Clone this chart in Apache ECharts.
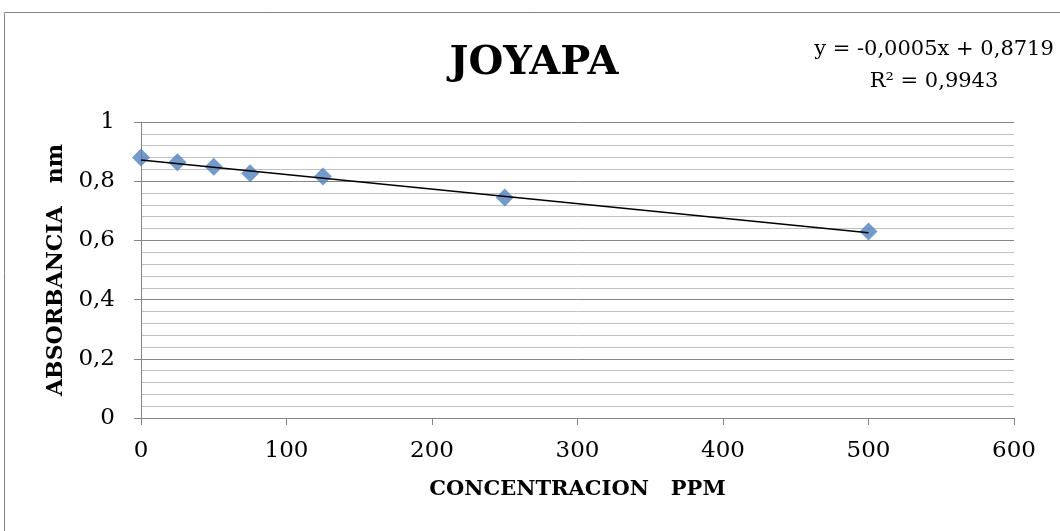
<!DOCTYPE html>
<html>
<head>
<meta charset="utf-8">
<script src="https://cdn.jsdelivr.net/npm/echarts@6/dist/echarts.min.js"></script>
<style>
html,body{margin:0;padding:0;background:#fff;}
#chart{width:1060px;height:531px;}
</style>
</head>
<body>
<div id="chart"></div>
<script>
// Data
const concentration = [0, 25, 50, 75, 125, 250, 500];
const absorbance = [0.880, 0.864, 0.849, 0.827, 0.816, 0.745, 0.630];
// Trendline endpoints as seen in the picture
const trendX = [0, 500];
const trendY = [0.872, 0.626];
const titleText = 'JOYAPA';
const equationText = 'y = -0,0005x + 0,8719';
const r2Text = 'R² = 0,9943';
const xAxisName = 'CONCENTRACION   PPM';
const yAxisName = 'ABSORBANCIA   nm';

const serif = '"DejaVu Serif", "Liberation Serif", serif';
const fmt = v => String(v).replace('.', ',');

const chart = echarts.init(document.getElementById('chart'));
chart.setOption({
  animation: false,
  backgroundColor: '#fff',
  graphic: [
    { type: 'rect', shape: { x: 4.5, y: 12.5, width: 1070, height: 530 },
      style: { fill: 'none', stroke: '#868686', lineWidth: 1 }, silent: true },
    { type: 'text', x: 934, y: 50,
      style: { text: equationText, font: '21px ' + serif, fill: '#000',
               align: 'center', verticalAlign: 'middle' } },
    { type: 'text', x: 934, y: 82,
      style: { text: r2Text, font: '21px ' + serif, fill: '#000',
               align: 'center', verticalAlign: 'middle' } }
  ],
  title: {
    text: titleText,
    left: 529, top: 39, textAlign: 'center',
    textStyle: { fontFamily: serif, fontWeight: 'bold', fontSize: 40, color: '#000' }
  },
  grid: { left: 141, right: 46, top: 122, bottom: 113 },
  xAxis: {
    type: 'value', min: 0, max: 600, interval: 100,
    name: xAxisName, nameLocation: 'middle', nameGap: 61,
    nameTextStyle: { fontFamily: serif, fontWeight: 'bold', fontSize: 21, color: '#000' },
    axisLine: { show: true, lineStyle: { color: '#868686', width: 1 } },
    axisTick: { show: true, length: 7, lineStyle: { color: '#868686' } },
    axisLabel: { fontFamily: serif, fontSize: 23, color: '#000', margin: 22 },
    splitLine: { show: false }
  },
  yAxis: {
    type: 'value', min: 0, max: 1, interval: 0.2,
    name: yAxisName, nameLocation: 'middle', nameGap: 73,
    nameTextStyle: { fontFamily: serif, fontWeight: 'bold', fontSize: 22, color: '#000' },
    axisLine: { show: true, lineStyle: { color: '#868686', width: 1 } },
    axisTick: { show: true, length: 7, lineStyle: { color: '#868686' } },
    axisLabel: { fontFamily: serif, fontSize: 23, color: '#000', margin: 26, formatter: fmt },
    splitLine: { show: true, lineStyle: { color: '#868686', width: 1 } },
    minorTick: { show: false, splitNumber: 5 },
    minorSplitLine: { show: true, lineStyle: { color: '#c0c0c0', width: 1 } }
  },
  series: [
    {
      type: 'line',
      data: trendX.map((x, i) => [x, trendY[i]]),
      symbol: 'none',
      lineStyle: { color: '#000', width: 1.5 },
      z: 3
    },
    {
      type: 'scatter',
      data: concentration.map((x, i) => [x, absorbance[i]]),
      symbol: 'diamond', symbolSize: 18,
      itemStyle: { color: '#4f81bd' },
      z: 2
    }
  ]
});
</script>
</body>
</html>
